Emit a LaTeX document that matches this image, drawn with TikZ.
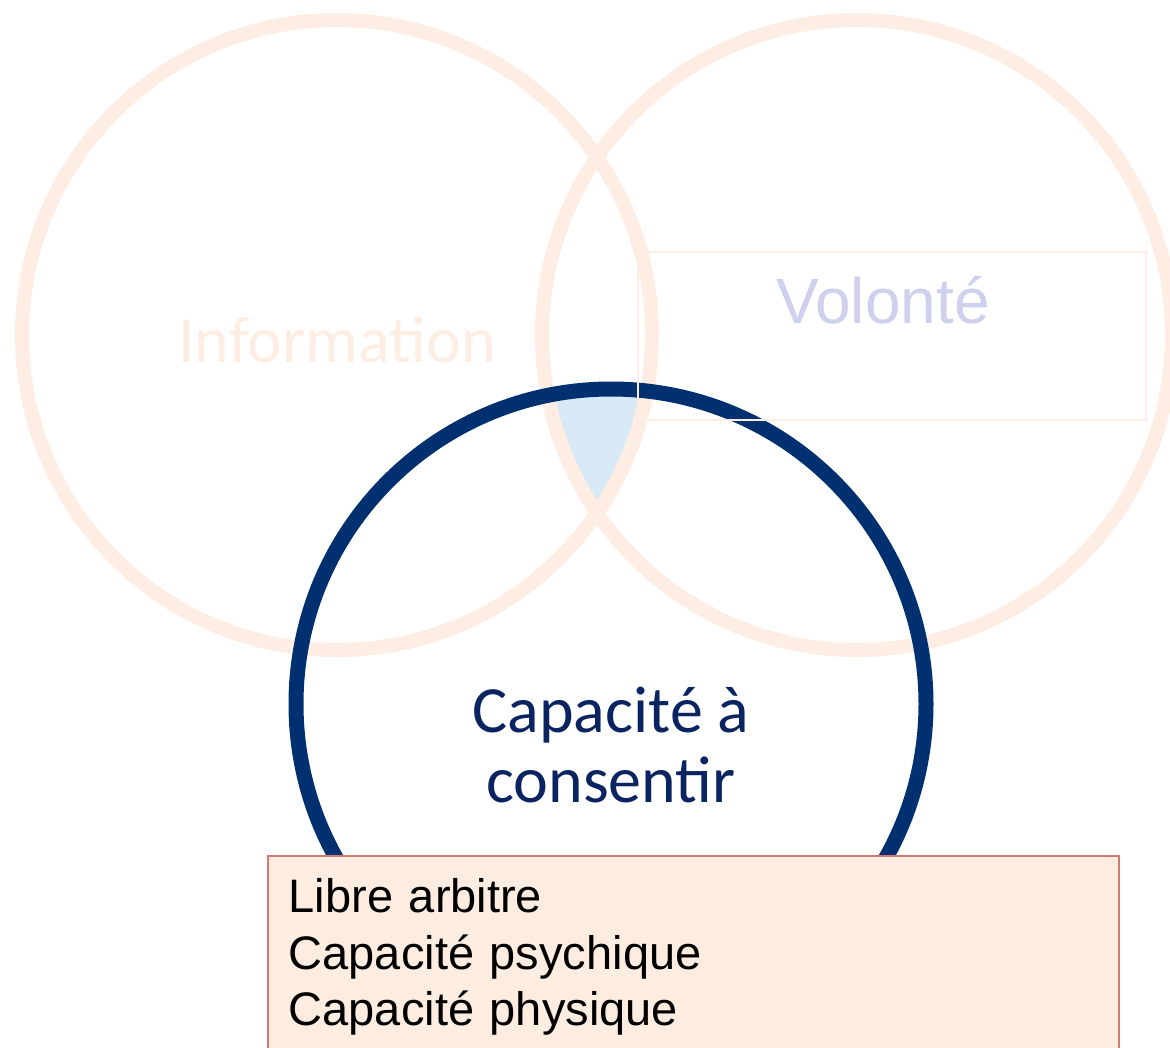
\documentclass[tikz,border=0pt]{standalone}
\usepackage{fontspec}
\setmainfont{Carlito}
\newfontfamily\arial{Liberation Sans}
\usetikzlibrary{positioning}
\definecolor{peach}{HTML}{FDEDE2}
\definecolor{navy}{HTML}{00306F}
\definecolor{navytext}{HTML}{0A2462}
\definecolor{paleblue}{HTML}{D7EAF5}
\definecolor{lavender}{HTML}{CFCFEE}
\definecolor{boxfill}{HTML}{FDECE0}
\definecolor{boxline}{HTML}{D57A72}
\tikzset{ring/.style = {draw, circle, inner sep = 0, minimum size = 630, line width = 14}}

\begin{document}
\begin{tikzpicture}[x = 1pt, y = -1pt]

    \clip (0, 0) rectangle (1170, 1047);
    \fill [white] (0, 0) rectangle (1170, 1047);

    \begin{scope}
      \clip (337, 335) circle [radius = 315pt];
      \clip (857, 335) circle [radius = 315pt];
      \fill [paleblue] (611, 704) circle [radius = 315pt];
    \end{scope}

    \node [ring, peach] (info) at (337, 335) {};
    \node [ring, peach] (will) at (857, 335) {};
    \node [ring, navy, line width = 15] (able) at (611, 704) {};

    \node [anchor = base, text = peach, font = \fontsize{66}{70}\selectfont] (infotext) at (337, 362) {Information};
    \node [draw = peach, line width = 1.5, inner sep = 0, minimum width = 508, minimum height = 168] (willbox) at (892, 336) {};
    \node [anchor = base, text = lavender, font = \arial\fontsize{64}{70}\selectfont] (willtext) at (883, 323) {Volonté};
    \node [align = center, text = navytext, font = \fontsize{66}{70}\selectfont] (abletext) at (611, 745) {Capacité à\\consentir};

    \node [draw = boxline, fill = boxfill, line width = 1.5, anchor = north west, align = left,
           text width = 809, inner xsep = 21, inner ysep = 23,
           font = \arial\fontsize{47}{56.5}\selectfont] (list) at (267, 855)
          {Libre arbitre\\Capacité psychique\\Capacité physique};
  \end{tikzpicture}
\end{document}
